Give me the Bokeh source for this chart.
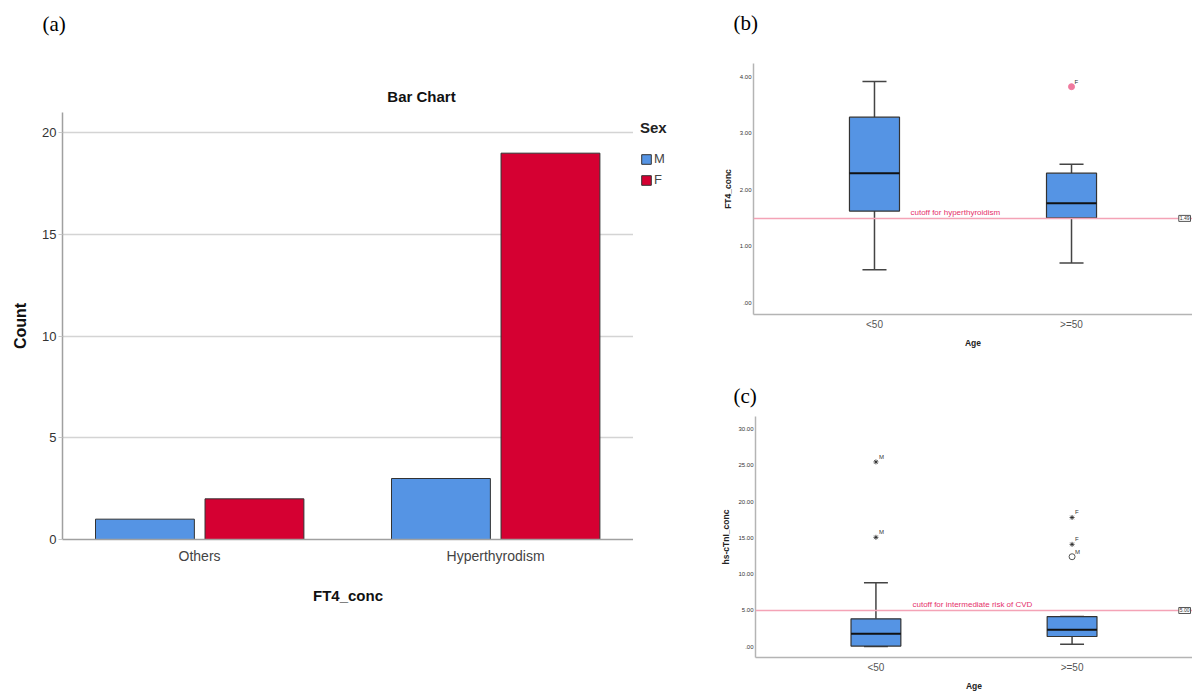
from bokeh.plotting import figure
from bokeh.models import (Range1d, Label, Legend, LegendItem, FixedTicker,
                          ColumnDataSource, Span)
from bokeh.layouts import row, column
from bokeh.core.properties import value
from bokeh.transform import dodge
from bokeh.embed import file_html
from bokeh.resources import INLINE

# ---------------- data ----------------
# (a) bar chart
categories = ["Others", "Hyperthyrodism"]
male_counts = [1, 3]
female_counts = [2, 19]
sexes = ["M", "F"]
count_ticks = [0, 5, 10, 15, 20]

# (b) FT4_conc box plot by age
age_groups = ["<50", ">=50"]
ft4_min = [0.58, 0.70]
ft4_q1 = [1.62, 1.50]
ft4_median = [2.29, 1.76]
ft4_q3 = [3.28, 2.29]
ft4_max = [3.91, 2.45]
ft4_out_group = [">=50"]
ft4_out_value = [3.82]
ft4_out_label = ["F"]
ft4_cutoff = 1.49
ft4_cutoff_text = "cutoff for hyperthyroidism"
ft4_ticks = [0, 1, 2, 3, 4]
ft4_tick_labels = [".00", "1.00", "2.00", "3.00", "4.00"]

# (c) hs-cTnI_conc box plot by age
tn_min = [0.05, 0.37]
tn_q1 = [0.10, 1.42]
tn_median = [1.79, 2.34]
tn_q3 = [3.85, 4.16]
tn_max = [8.83, 4.16]
tn_star_group = ["<50", "<50", ">=50", ">=50"]
tn_star_value = [25.45, 15.07, 17.8, 14.1]
tn_star_label = ["M", "M", "F", "F"]
tn_circle_group = [">=50"]
tn_circle_value = [12.4]
tn_circle_label = ["M"]
tn_cutoff = 5.0
tn_cutoff_text = "cutoff for intermediate risk of CVD"
tn_ticks = [0, 5, 10, 15, 20, 25, 30]
tn_tick_labels = [".00", "5.00", "10.00", "15.00", "20.00", "25.00", "30.00"]

SANS = "Liberation Sans"
SERIF = "Liberation Serif"
BLUE = "#5594e4"
RED = "#d50032"
sex_colors = [BLUE, RED]


def blank(width, height):
    """A figure without axes whose frame fills the whole canvas (y grows downward)."""
    p = figure(width=width, height=height, output_backend="svg", toolbar_location=None,
               title=None, x_range=Range1d(0, width), y_range=Range1d(height, 0),
               x_axis_location=None, y_axis_location=None,
               min_border_left=0, min_border_right=0, min_border_top=0,
               min_border_bottom=0)
    p.outline_line_color = None
    p.grid.visible = False
    p.frame_align = False
    return p


# ---------------- (a) header ----------------
ha = blank(718, 112)
ha.text(x=[42], y=[23], text=["(a)"], text_font=value(SERIF), text_font_size="21px",
        text_color="#000000", text_baseline="middle", text_align="left")
ha.text(x=[421], y=[96], text=["Bar Chart"], text_font=value(SANS),
        text_font_size="15px", text_font_style="bold", text_color="#111111",
        text_baseline="middle", text_align="center")

# ---------------- (a) bars ----------------
pa = figure(width=633, height=581, output_backend="svg", toolbar_location=None,
            title=None, x_range=Range1d(0.537, 2.466), y_range=Range1d(0, 21),
            min_border_left=62, min_border_right=0, min_border_top=0,
            min_border_bottom=154)
pa.frame_align = False
pa.outline_line_color = None
src_a = ColumnDataSource(dict(x=[i + 1 for i in range(len(categories))],
                              m=male_counts, f=female_counts))
pa.vbar(x=dodge("x", -0.1845), top="m", width=0.334, source=src_a,
        fill_color=BLUE, line_color="#333333", line_width=1)
pa.vbar(x=dodge("x", 0.1855), top="f", width=0.334, source=src_a,
        fill_color=RED, line_color="#333333", line_width=1)

pa.xgrid.visible = False
pa.ygrid.grid_line_color = "#d4d4d4"
pa.ygrid.grid_line_width = 1.5
pa.xaxis.ticker = FixedTicker(ticks=[i + 1 for i in range(len(categories))])
pa.xaxis.major_label_overrides = {i + 1: c for i, c in enumerate(categories)}
pa.yaxis.ticker = FixedTicker(ticks=count_ticks)
for ax in (pa.xaxis[0], pa.yaxis[0]):
    ax.axis_line_color = "#a0a0a0"
    ax.axis_line_width = 1.5
    ax.minor_tick_line_color = None
    ax.major_label_text_font = SANS
    ax.axis_label_text_font = SANS
    ax.axis_label_text_font_style = "bold"
    ax.axis_label_text_color = "#111111"
pa.xaxis.major_tick_line_color = None
pa.xaxis.major_tick_out = 0
pa.xaxis.major_tick_in = 0
pa.xaxis.major_label_standoff = 8
pa.xaxis.major_label_text_font_size = "14px"
pa.xaxis.major_label_text_color = "#444444"
pa.xaxis.axis_label = "FT4_conc"
pa.xaxis.axis_label_text_font_size = "15px"
pa.xaxis.axis_label_standoff = 20
pa.yaxis.major_tick_out = 4
pa.yaxis.major_tick_in = 0
pa.yaxis.major_tick_line_color = "#c8c8c8"
pa.yaxis.major_label_standoff = 2
pa.yaxis.major_label_text_font_size = "13px"
pa.yaxis.major_label_text_color = "#333333"
pa.yaxis.axis_label = "Count"
pa.yaxis.axis_label_text_font_size = "16px"
pa.yaxis.axis_label_standoff = 10

# ---------------- (a) legend ----------------
lf = blank(85, 581)
items = []
for s, c in zip(sexes, sex_colors):
    # zero-size proxy bar: only its style is used for the legend swatch
    r = lf.vbar(x=[0], top=[0], bottom=[0], width=0, fill_color=c,
                line_color="#333333", line_width=1)
    items.append(LegendItem(label=s, renderers=[r]))
legend = Legend(items=items, title="Sex", location="top_left", margin=7, padding=0,
                border_line_color=None, background_fill_alpha=0,
                title_text_font=SANS, title_text_font_size="15px",
                title_text_font_style="bold", title_text_color="#222222",
                title_standoff=15,
                label_text_font=SANS, label_text_font_size="13px",
                label_text_color="#444444", label_standoff=2, label_height=14,
                glyph_width=12, glyph_height=12, spacing=6)
lf.add_layout(legend, "center")


# ---------------- box plot helper ----------------
def box_panel(height, y_range, mn, q1, med, q3, mx, ticks, tick_labels, ylabel,
              cutoff, cutoff_text, cutoff_box_text, bt, bb):
    p = figure(width=474, height=height, output_backend="svg", toolbar_location=None,
               title=None, x_range=Range1d(0.386, 2.614), y_range=Range1d(*y_range),
               min_border_left=35, min_border_right=0, min_border_top=bt,
               min_border_bottom=bb)
    p.frame_align = False
    p.outline_line_color = None
    p.grid.visible = False
    src = ColumnDataSource(dict(x=[i + 1 for i in range(len(age_groups))],
                                mn=mn, q1=q1, med=med, q3=q3, mx=mx))
    p.segment(x0="x", y0="q3", x1="x", y1="mx", source=src,
              line_color="#444444", line_width=1.5)
    p.segment(x0="x", y0="q1", x1="x", y1="mn", source=src,
              line_color="#444444", line_width=1.5)
    p.segment(x0=dodge("x", -0.061), y0="mx", x1=dodge("x", 0.061), y1="mx",
              source=src, line_color="#444444", line_width=1.5)
    p.segment(x0=dodge("x", -0.061), y0="mn", x1=dodge("x", 0.061), y1="mn",
              source=src, line_color="#444444", line_width=1.5)
    p.vbar(x="x", width=0.254, bottom="q1", top="q3", source=src,
           fill_color=BLUE, line_color="#333333", line_width=1.2)
    p.segment(x0=dodge("x", -0.127), y0="med", x1=dodge("x", 0.127), y1="med",
              source=src, line_color="#111111", line_width=2)

    p.add_layout(Span(location=cutoff, dimension="width", line_color="#f4a3b6",
                      line_width=1.5))
    p.add_layout(Label(x=157, y=cutoff, x_units="screen", y_units="data",
                       y_offset=1, text=cutoff_text, text_baseline="bottom",
                       text_font=SANS, text_font_size="8px", text_color="#e5306a"))
    p.add_layout(Label(x=p.x_range.end, y=cutoff, x_units="data", y_units="data",
                       x_offset=-2, text=cutoff_box_text, text_baseline="middle",
                       text_align="right",
                       text_font=SANS, text_font_size="5px", text_color="#333333",
                       border_line_color="#555555", background_fill_color="white",
                       padding=1))

    p.xaxis.ticker = FixedTicker(ticks=[i + 1 for i in range(len(age_groups))])
    p.xaxis.major_label_overrides = {i + 1: g for i, g in enumerate(age_groups)}
    p.yaxis.ticker = FixedTicker(ticks=ticks)
    p.yaxis.major_label_overrides = {t: l for t, l in zip(ticks, tick_labels)}
    for ax in (p.xaxis[0], p.yaxis[0]):
        ax.axis_line_color = "#b4b4b4"
        ax.axis_line_width = 1.5
        ax.major_tick_line_color = None
        ax.major_tick_out = 0
        ax.major_tick_in = 0
        ax.minor_tick_line_color = None
        ax.major_label_text_font = SANS
        ax.axis_label_text_font = SANS
        ax.axis_label_text_font_style = "bold"
        ax.axis_label_text_color = "#222222"
        ax.axis_label_text_font_size = "8.5px"
    p.xaxis.major_label_text_font_size = "10px"
    p.xaxis.major_label_text_color = "#555555"
    p.xaxis.major_label_standoff = 4
    p.xaxis.axis_label = "Age"
    p.xaxis.axis_label_standoff = 5
    p.yaxis.major_label_text_font_size = "6px"
    p.yaxis.major_label_text_color = "#333333"
    p.yaxis.major_label_standoff = 2
    p.yaxis.axis_label = ylabel
    p.yaxis.axis_label_standoff = 4
    return p


def gx(groups):
    return [age_groups.index(g) + 1 for g in groups]


# ---------------- (b) ----------------
hb = blank(474, 45)
hb.text(x=[15], y=[22], text=["(b)"], text_font=value(SERIF), text_font_size="21px",
        text_color="#000000", text_baseline="middle", text_align="left")
pb = box_panel(335, (-0.21, 4.23), ft4_min, ft4_q1, ft4_median, ft4_q3, ft4_max,
               ft4_ticks, ft4_tick_labels, "FT4_conc", ft4_cutoff,
               ft4_cutoff_text, "1.49", 18, 66)
src_bo = ColumnDataSource(dict(x=gx(ft4_out_group), y=ft4_out_value,
                               t=ft4_out_label))
pb.scatter(x="x", y="y", source=src_bo, size=6, marker="circle",
           fill_color="#f07a9e", line_color="#f07a9e")
pb.text(x="x", y="y", text="t", source=src_bo, x_offset=3, y_offset=-2,
        text_font=value(SANS), text_font_size="6px", text_color="#333333",
        text_baseline="bottom")

# ---------------- (c) ----------------
hc = blank(474, 30)
hc.text(x=[15], y=[15], text=["(c)"], text_font=value(SERIF), text_font_size="21px",
        text_color="#000000", text_baseline="middle", text_align="left")
pc = box_panel(283, (-1.47, 31.7), tn_min, tn_q1, tn_median, tn_q3, tn_max,
               tn_ticks, tn_tick_labels, "hs-cTnI_conc", tn_cutoff,
               tn_cutoff_text, "5.00", 6, 36)
src_cs = ColumnDataSource(dict(x=gx(tn_star_group), y=tn_star_value, t=tn_star_label))
src_cc = ColumnDataSource(dict(x=gx(tn_circle_group), y=tn_circle_value,
                               t=tn_circle_label))
pc.scatter(x="x", y="y", source=src_cs, size=5, marker="asterisk",
           line_color="#222222", line_width=0.8)
pc.scatter(x="x", y="y", source=src_cc, size=6, marker="circle",
           fill_color=None, line_color="#555555", line_width=1)
for s in (src_cs, src_cc):
    pc.text(x="x", y="y", text="t", source=s, x_offset=3, y_offset=-2,
            text_font=value(SANS), text_font_size="6px", text_color="#333333",
            text_baseline="bottom")

layout = row(column(ha, row(pa, lf)), column(hb, pb, hc, pc))
open("out.html", "w").write(file_html(layout, INLINE))
